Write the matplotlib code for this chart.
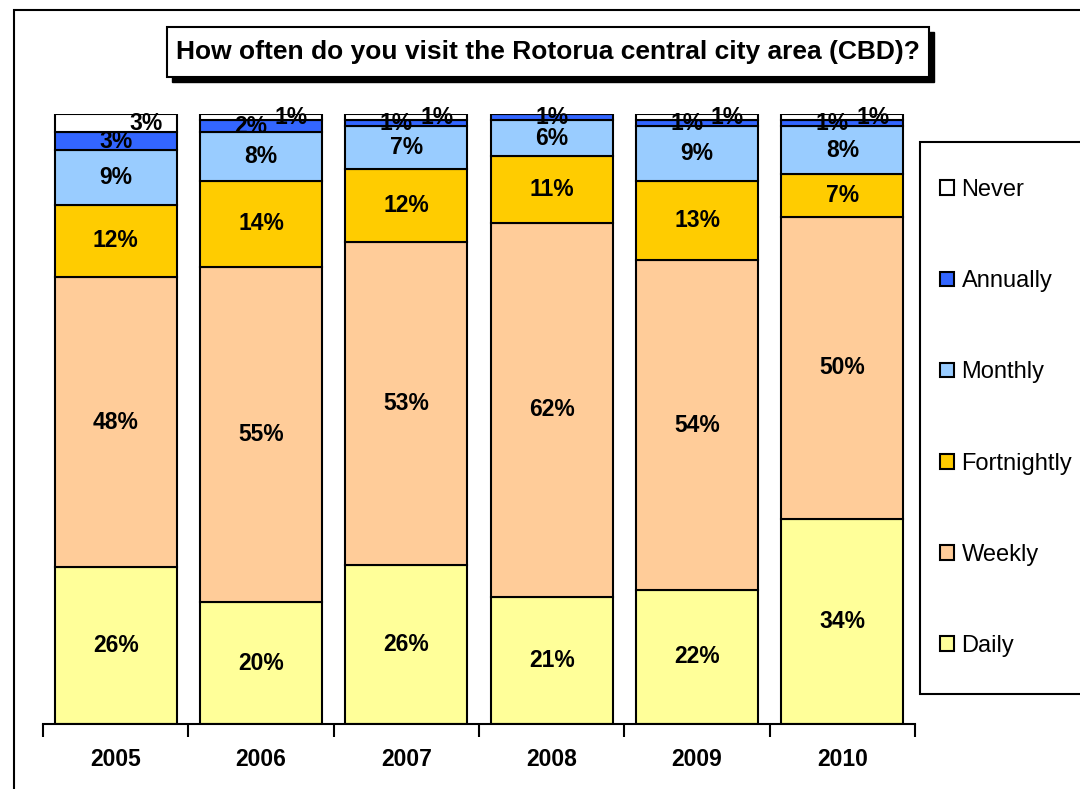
import matplotlib.pyplot as plt
import numpy as np
from matplotlib.patches import Rectangle

plt.rcParams['font.family'] = ['Liberation Sans', 'DejaVu Sans']

years = ['2005', '2006', '2007', '2008', '2009', '2010']
series = ['Daily', 'Weekly', 'Fortnightly', 'Monthly', 'Annually', 'Never']
daily = [26, 20, 26, 21, 22, 34]
weekly = [48, 55, 53, 62, 54, 50]
fortnightly = [12, 14, 12, 11, 13, 7]
monthly = [9, 8, 7, 6, 9, 8]
annually = [3, 2, 1, 1, 1, 1]
never = [3, 1, 1, 0, 1, 1]
colors = ['#FFFF99', '#FFCC99', '#FFCC00', '#99CCFF', '#3366FF', '#FFFFFF']

W, H = 1080, 789
fig = plt.figure(figsize=(W / 100, H / 100), dpi=100)

# outer chart frame (runs off right/bottom edges)
fig.patches.append(Rectangle((14 / W, -0.1), 1.2, (H - 10) / H + 0.1,
                             transform=fig.transFigure, fill=False,
                             edgecolor='black', linewidth=1.5))

ax = fig.add_axes([43 / W, (H - 724) / H, (915 - 43) / W, (724 - 114) / H])

values = np.array([daily, weekly, fortnightly, monthly, annually, never], dtype=float)
shares = values / values.sum(axis=0)
x = np.arange(len(years))
bottom = np.zeros(len(years))
for i, name in enumerate(series):
    ax.bar(x, shares[i], 0.84, bottom=bottom, color=colors[i],
           edgecolor='black', linewidth=1.5, label=name)
    for j in range(len(years)):
        v = values[i, j]
        if v == 0:
            continue
        dx = 0.0
        if name == 'Never':
            dx = 0.21
        elif name == 'Annually' and v <= 2 and never[j] > 0:
            dx = -0.07
        ax.text(x[j] + dx, bottom[j] + shares[i, j] / 2, f'{int(v)}%',
                ha='center', va='center', fontsize=16.5, fontweight='bold')
    bottom += shares[i]

ax.set_xlim(-0.5, len(years) - 0.5)
ax.set_ylim(0, 1)
for s in ['left', 'top', 'right']:
    ax.spines[s].set_visible(False)
ax.spines['bottom'].set_linewidth(1.5)
ax.set_yticks([])
ax.set_xticks(np.arange(-0.5, len(years), 1.0))
ax.set_xticklabels([])
ax.tick_params(axis='x', direction='out', length=9, width=1.5)
for j, yr in enumerate(years):
    ax.text(x[j], -0.058, yr, ha='center', va='center', fontsize=16.5,
            fontweight='bold', clip_on=False)

# title box with shadow
fig.patches.append(Rectangle((172 / W, 1 - 82 / H), 762 / W, 50 / H,
                             transform=fig.transFigure, facecolor='black',
                             edgecolor='black', zorder=1))
fig.patches.append(Rectangle((167 / W, 1 - 77 / H), 762 / W, 50 / H,
                             transform=fig.transFigure, facecolor='white',
                             edgecolor='black', linewidth=1.5, zorder=2))
fig.text(548 / W, 1 - 52 / H, 'How often do you visit the Rotorua central city area (CBD)?',
         ha='center', va='center', fontsize=19, fontweight='bold', zorder=3)

# legend frame, then frameless legend inside it
fig.patches.append(Rectangle((920 / W, 1 - 694 / H), 0.2, (694 - 142) / H,
                             transform=fig.transFigure, facecolor='white',
                             edgecolor='black', linewidth=1.5))
handles, labels = ax.get_legend_handles_labels()
leg = fig.legend(handles[::-1], labels[::-1], loc='upper left',
                 bbox_to_anchor=(940 / W, 1 - 179 / H), frameon=False,
                 fontsize=17, handlelength=0.58, handleheight=0.58,
                 handletextpad=0.33, labelspacing=2.93, borderpad=0,
                 borderaxespad=0)

fig.savefig('out.png', dpi=100)
